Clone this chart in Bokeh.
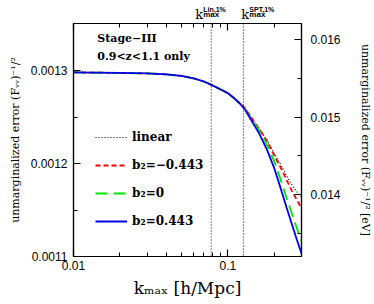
from bokeh.plotting import figure
from bokeh.layouts import column
from bokeh.models import (Range1d, LinearAxis, LogAxis, FixedTicker, Span, Label, Legend, LegendItem)
from bokeh.core.properties import value
from bokeh.embed import file_html
from bokeh.resources import INLINE

# ---- data ----
k_max = [0.01, 0.02, 0.03, 0.04, 0.05, 0.06, 0.07, 0.08, 0.09, 0.10, 0.11, 0.12,
         0.13, 0.14, 0.15, 0.16, 0.18, 0.20, 0.22, 0.24, 0.26, 0.28, 0.30]
err_b2_pos = [0.0012984, 0.0012978, 0.0012973, 0.0012962, 0.0012946, 0.0012919, 0.0012886,
              0.0012842, 0.0012799, 0.0012761, 0.0012705, 0.0012646, 0.0012576, 0.0012485,
              0.0012400, 0.0012322, 0.0012144, 0.0011949, 0.0011734, 0.0011528, 0.0011347,
              0.0011180, 0.0011033]
err_b2_zero = [0.0012984, 0.0012978, 0.0012973, 0.0012962, 0.0012946, 0.0012919, 0.0012886,
               0.0012842, 0.0012799, 0.0012761, 0.0012705, 0.0012646, 0.0012582, 0.0012496,
               0.0012422, 0.0012354, 0.0012198, 0.0012025, 0.0011826, 0.0011632, 0.0011461,
               0.0011305, 0.0011163]
err_b2_neg = [0.0012984, 0.0012978, 0.0012973, 0.0012962, 0.0012946, 0.0012919, 0.0012886,
              0.0012842, 0.0012799, 0.0012761, 0.0012705, 0.0012651, 0.0012592, 0.0012512,
              0.0012438, 0.0012370, 0.0012239, 0.0012087, 0.0011957, 0.0011826, 0.0011707,
              0.0011609, 0.0011522]
err_linear = [0.0012984, 0.0012978, 0.0012973, 0.0012962, 0.0012946, 0.0012919, 0.0012886,
              0.0012842, 0.0012799, 0.0012761, 0.0012705, 0.0012651, 0.0012592, 0.0012512,
              0.0012438, 0.0012375, 0.0012250, 0.0012109, 0.0011989, 0.0011870, 0.0011772,
              0.0011696, 0.0011641]
k_lin_1pct = 0.078
k_spt_1pct = 0.126
legend_labels = ["linear", "b₂=−0.443", "b₂=0", "b₂=0.443"]
note_lines = ["Stage−III", "0.9<z<1.1 only"]
x_major = [0.01, 0.1]
x_minor = [0.02, 0.03, 0.04, 0.05, 0.06, 0.07, 0.08, 0.09, 0.2, 0.3]
y_left_major = [0.0011, 0.0012, 0.0013]
y_left_minor = [0.00115, 0.00125]
y_right_major = [0.014, 0.015, 0.016]
y_right_minor = [0.0135, 0.0145, 0.0155]
ev_factor = 12.0

y0, y1 = 0.0011, 0.0013511

SERIF = "DejaVu Serif"
SANS = "Liberation Sans"

W = 374
TOP_H = 21
BL, BR = 73, 70

p = figure(width=W, height=304 - TOP_H, x_axis_type="log",
           x_range=Range1d(0.01, 0.3), y_range=Range1d(y0, y1),
           output_backend="svg", toolbar_location=None,
           min_border_left=BL, min_border_right=BR, min_border_top=2, min_border_bottom=48)
p.grid.visible = False
p.outline_line_color = "black"
p.outline_line_width = 1.2
p.background_fill_color = "white"

p.extra_y_ranges = {"ev": Range1d(y0 * ev_factor, y1 * ev_factor)}

def style_axis(ax):
    ax.major_tick_in = 7
    ax.major_tick_out = 0
    ax.minor_tick_in = 4
    ax.minor_tick_out = 0
    ax.axis_line_color = "black"
    ax.axis_line_width = 1.2
    ax.major_tick_line_width = 1.2
    ax.major_label_text_font = SANS
    ax.major_label_text_font_size = "12px"
    ax.major_label_text_color = "black"
    ax.axis_label_text_font = SERIF
    ax.axis_label_text_font_style = "normal"
    ax.axis_label_text_color = "black"

xa = p.xaxis[0]
xa.ticker = FixedTicker(ticks=x_major, minor_ticks=x_minor)
xa.major_label_overrides = {0.01: "0.01", 0.1: "0.1"}
xa.axis_label = "kₘₐₓ [h/Mpc]"
style_axis(xa)
xa.axis_label_text_font_size = "17px"
xa.major_label_standoff = 4
xa.axis_label_standoff = 5

ya = p.yaxis[0]
ya.ticker = FixedTicker(ticks=y_left_major, minor_ticks=y_left_minor)
ya.major_label_overrides = {0.0011: "0.0011", 0.0012: "0.0012", 0.0013: "0.0013"}
ya.axis_label = "unmarginalized error (Fᵥᵥ)⁻¹/²"
style_axis(ya)
ya.axis_label_text_font_size = "11px"
ya.major_label_standoff = 6
ya.axis_label_standoff = 6

ra = LinearAxis(y_range_name="ev", ticker=FixedTicker(ticks=y_right_major, minor_ticks=y_right_minor))
ra.major_label_overrides = {0.014: "0.014", 0.015: "0.015", 0.016: "0.016"}
ra.axis_label = "unmarginalized error (Fᵥᵥ)⁻¹/² [eV]"
style_axis(ra)
ra.axis_label_text_font_size = "11px"
ra.major_label_standoff = 9
ra.axis_label_standoff = 15
p.add_layout(ra, "right")

top = LogAxis(ticker=FixedTicker(ticks=x_major, minor_ticks=x_minor))
style_axis(top)
top.major_label_overrides = {0.01: "", 0.1: ""}
top.major_label_text_font_size = "1px"
top.major_label_text_alpha = 0
top.major_label_standoff = 0
p.add_layout(top, "above")

# curves
r_lin = p.line(k_max, err_linear, line_color="black", line_width=1.2, line_dash="1 2")
r_neg = p.line(k_max, err_b2_neg, line_color="#ff0000", line_width=1.8, line_dash="5 3")
r_zero = p.line(k_max, err_b2_zero, line_color="#00e600", line_width=1.8, line_dash="12 6")
r_pos = p.line(k_max, err_b2_pos, line_color="#0000ee", line_width=1.8)

# vertical markers
for kv in (k_lin_1pct, k_spt_1pct):
    p.add_layout(Span(location=kv, dimension="height", line_color="black",
                      line_width=1, line_dash="1 2"))

# annotation text (text glyphs placed through the log scale)
p.text(x=[0.01425, 0.01425], y=[y1, y1], text=note_lines, x_offset=0, y_offset=[15, 33],
       text_font=value(SERIF), text_font_size="11px", text_font_style="bold",
       text_color="black", text_baseline="middle", text_align="left")

legend = Legend(items=[LegendItem(label=legend_labels[0], renderers=[r_lin]),
                       LegendItem(label=legend_labels[1], renderers=[r_neg]),
                       LegendItem(label=legend_labels[2], renderers=[r_zero]),
                       LegendItem(label=legend_labels[3], renderers=[r_pos])],
                location=(22, 25), orientation="vertical")
legend.background_fill_alpha = 0
legend.border_line_alpha = 0
legend.padding = 0
legend.margin = 0
legend.spacing = 8
legend.glyph_width = 32
legend.glyph_height = 20
legend.label_height = 20
legend.label_standoff = 5
legend.label_text_font = SERIF
legend.label_text_font_size = "12px"
legend.label_text_font_style = "bold"
legend.label_text_color = "black"
p.add_layout(legend, "center")

# strip above the frame holding the k_max labels
pt = figure(width=W, height=TOP_H, x_axis_type="log", x_range=p.x_range,
            y_range=Range1d(0, TOP_H), output_backend="svg", toolbar_location=None,
            min_border_left=BL, min_border_right=BR, min_border_top=0, min_border_bottom=0)
pt.axis.visible = False
pt.grid.visible = False
pt.outline_line_color = None

def kmax_label(xv, dx, sup):
    pt.add_layout(Label(x=xv, y=7, x_offset=dx, text="k",
                        text_font=SERIF, text_font_size="13px", text_color="black",
                        text_baseline="alphabetic", text_align="left"))
    pt.add_layout(Label(x=xv, y=7, x_offset=dx + 8, text="max",
                        text_font=SANS, text_font_size="8px", text_font_style="bold",
                        text_color="black", text_baseline="alphabetic", text_align="left"))
    pt.add_layout(Label(x=xv, y=12.5, x_offset=dx + 8, text=sup,
                        text_font=SANS, text_font_size="7px", text_font_style="bold",
                        text_color="black", text_baseline="alphabetic", text_align="left"))

kmax_label(k_lin_1pct, -16, "Lin,1%")
kmax_label(k_spt_1pct, -2, "SPT,1%")

layout = column(pt, p, spacing=0)
open("out.html", "w").write(file_html(layout, INLINE))
